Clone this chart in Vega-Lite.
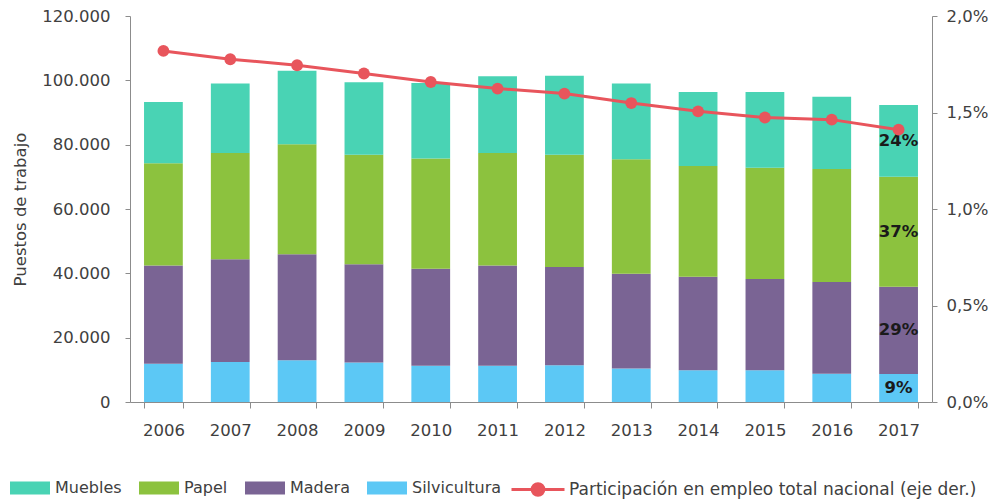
{
  "$schema": "https://vega.github.io/schema/vega-lite/v6.json",
  "width": 802,
  "height": 386,
  "autosize": {"type": "none"},
  "padding": {"left": 130, "top": 16, "right": 62, "bottom": 98},
  "config": {
    "locale": {"number": {"decimal": ",", "thousands": ".", "grouping": [3], "currency": ["", " €"]}},
    "font": "DejaVu Sans",
    "view": {"stroke": null},
    "axis": {
      "domainColor": "#8c8c8c",
      "tickColor": "#8c8c8c",
      "labelColor": "#404040",
      "labelFont": "DejaVu Sans",
      "labelFontSize": 16.5,
      "grid": false,
      "titleFont": "DejaVu Sans",
      "titleFontWeight": "normal",
      "titleColor": "#404040",
      "titleFontSize": 16.5
    },
    "legend": {"labelFont": "DejaVu Sans", "labelColor": "#404040", "padding": 0, "labelLimit": 600}
  },
  "datasets": {
    "empleo": [
      {"year": "2006", "sector": "Silvicultura", "orden": 1, "value": 11900},
      {"year": "2006", "sector": "Madera", "orden": 2, "value": 30500},
      {"year": "2006", "sector": "Papel", "orden": 3, "value": 31800},
      {"year": "2006", "sector": "Muebles", "orden": 4, "value": 19100},
      {"year": "2007", "sector": "Silvicultura", "orden": 1, "value": 12400},
      {"year": "2007", "sector": "Madera", "orden": 2, "value": 32000},
      {"year": "2007", "sector": "Papel", "orden": 3, "value": 33000},
      {"year": "2007", "sector": "Muebles", "orden": 4, "value": 21600},
      {"year": "2008", "sector": "Silvicultura", "orden": 1, "value": 13000},
      {"year": "2008", "sector": "Madera", "orden": 2, "value": 32900},
      {"year": "2008", "sector": "Papel", "orden": 3, "value": 34200},
      {"year": "2008", "sector": "Muebles", "orden": 4, "value": 22900},
      {"year": "2009", "sector": "Silvicultura", "orden": 1, "value": 12300},
      {"year": "2009", "sector": "Madera", "orden": 2, "value": 30500},
      {"year": "2009", "sector": "Papel", "orden": 3, "value": 34100},
      {"year": "2009", "sector": "Muebles", "orden": 4, "value": 22500},
      {"year": "2010", "sector": "Silvicultura", "orden": 1, "value": 11300},
      {"year": "2010", "sector": "Madera", "orden": 2, "value": 30100},
      {"year": "2010", "sector": "Papel", "orden": 3, "value": 34300},
      {"year": "2010", "sector": "Muebles", "orden": 4, "value": 23500},
      {"year": "2011", "sector": "Silvicultura", "orden": 1, "value": 11300},
      {"year": "2011", "sector": "Madera", "orden": 2, "value": 31100},
      {"year": "2011", "sector": "Papel", "orden": 3, "value": 35000},
      {"year": "2011", "sector": "Muebles", "orden": 4, "value": 23900},
      {"year": "2012", "sector": "Silvicultura", "orden": 1, "value": 11400},
      {"year": "2012", "sector": "Madera", "orden": 2, "value": 30600},
      {"year": "2012", "sector": "Papel", "orden": 3, "value": 34900},
      {"year": "2012", "sector": "Muebles", "orden": 4, "value": 24500},
      {"year": "2013", "sector": "Silvicultura", "orden": 1, "value": 10400},
      {"year": "2013", "sector": "Madera", "orden": 2, "value": 29500},
      {"year": "2013", "sector": "Papel", "orden": 3, "value": 35600},
      {"year": "2013", "sector": "Muebles", "orden": 4, "value": 23500},
      {"year": "2014", "sector": "Silvicultura", "orden": 1, "value": 9900},
      {"year": "2014", "sector": "Madera", "orden": 2, "value": 29000},
      {"year": "2014", "sector": "Papel", "orden": 3, "value": 34500},
      {"year": "2014", "sector": "Muebles", "orden": 4, "value": 23000},
      {"year": "2015", "sector": "Silvicultura", "orden": 1, "value": 9900},
      {"year": "2015", "sector": "Madera", "orden": 2, "value": 28300},
      {"year": "2015", "sector": "Papel", "orden": 3, "value": 34600},
      {"year": "2015", "sector": "Muebles", "orden": 4, "value": 23600},
      {"year": "2016", "sector": "Silvicultura", "orden": 1, "value": 8800},
      {"year": "2016", "sector": "Madera", "orden": 2, "value": 28500},
      {"year": "2016", "sector": "Papel", "orden": 3, "value": 35100},
      {"year": "2016", "sector": "Muebles", "orden": 4, "value": 22500},
      {"year": "2017", "sector": "Silvicultura", "orden": 1, "value": 8700, "label": "9%"},
      {"year": "2017", "sector": "Madera", "orden": 2, "value": 27100, "label": "29%"},
      {"year": "2017", "sector": "Papel", "orden": 3, "value": 34200, "label": "37%"},
      {"year": "2017", "sector": "Muebles", "orden": 4, "value": 22300, "label": "24%"}
    ],
    "participacion": [
      {"year": "2006", "share": 0.01819},
      {"year": "2007", "share": 0.01776},
      {"year": "2008", "share": 0.01745},
      {"year": "2009", "share": 0.01702},
      {"year": "2010", "share": 0.01658},
      {"year": "2011", "share": 0.01624},
      {"year": "2012", "share": 0.01598},
      {"year": "2013", "share": 0.01549},
      {"year": "2014", "share": 0.01506},
      {"year": "2015", "share": 0.01474},
      {"year": "2016", "share": 0.01463},
      {"year": "2017", "share": 0.01411}
    ]
  },
  "layer": [
    {
      "data": {"name": "empleo"},
      "layer": [
        {
          "mark": {"type": "bar"},
          "encoding": {
            "x": {
              "field": "year", "type": "ordinal",
              "scale": {"paddingInner": 0.42, "paddingOuter": 0.21},
              "axis": {"title": null, "tickBand": "extent", "labelAngle": 0, "tickSize": 6, "labelPadding": 14}
            },
            "y": {
              "field": "value", "type": "quantitative", "stack": "zero",
              "scale": {"domain": [0, 120000]},
              "axis": {"title": "Puestos de trabajo", "values": [0, 20000, 40000, 60000, 80000, 100000, 120000], "format": ",d", "tickSize": 5, "labelPadding": 15, "titlePadding": 13}
            },
            "color": {
              "field": "sector", "type": "nominal",
              "scale": {"domain": ["Muebles", "Papel", "Madera", "Silvicultura"], "range": ["#49D3B4", "#8CC23E", "#7A6494", "#5CC8F5"]},
              "legend": {
                "orient": "none", "legendX": -120, "legendY": 452, "direction": "horizontal", "title": null,
                "symbolType": "M-1,-0.33H1V0.33H-1Z", "symbolSize": 1600, "symbolStrokeWidth": 0,
                "labelFontSize": 16, "labelOffset": 5, "columnPadding": 17
              }
            },
            "order": {"field": "orden", "type": "quantitative"}
          }
        },
        {
          "transform": [
            {"filter": "isValid(datum.label)"},
            {"stack": "value", "groupby": ["year"], "sort": [{"field": "orden"}], "as": ["y0", "y1"]},
            {"calculate": "(datum.y0 + datum.y1) / 2", "as": "mid"}
          ],
          "mark": {"type": "text", "fontWeight": "bold", "fontSize": 16.5, "color": "#1a1a1a", "font": "DejaVu Sans"},
          "encoding": {
            "x": {"field": "year", "type": "ordinal"},
            "y": {"field": "mid", "type": "quantitative"},
            "text": {"field": "label"}
          }
        }
      ]
    },
    {
      "data": {"name": "participacion"},
      "mark": {"type": "line", "strokeWidth": 3, "point": {"size": 140, "filled": true}},
      "encoding": {
        "x": {"field": "year", "type": "ordinal"},
        "y": {
          "field": "share", "type": "quantitative",
          "scale": {"domain": [0, 0.02]},
          "axis": {"orient": "right", "title": null, "format": ".1%", "values": [0, 0.005, 0.01, 0.015, 0.02], "tickSize": 5, "labelPadding": 9}
        },
        "color": {
          "datum": "Participación en empleo total nacional (eje der.)",
          "scale": {"range": ["#E8555C"]},
          "legend": {
            "orient": "none", "legendX": 380, "legendY": 445.5, "title": null,
            "symbolType": "M-1,0L1,0M0.22,0A0.22,0.22,0,1,1,-0.22,0A0.22,0.22,0,1,1,0.22,0",
            "symbolSize": 2809, "symbolStrokeWidth": 3, "symbolFillColor": "#E8555C", "symbolStrokeColor": "#E8555C",
            "labelFontSize": 17, "labelOffset": 3, "labelLimit": 600
          }
        }
      }
    }
  ],
  "resolve": {"scale": {"y": "independent", "color": "independent"}}
}
